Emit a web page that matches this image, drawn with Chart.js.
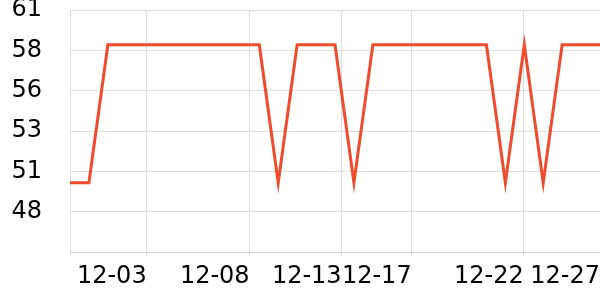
<!DOCTYPE html>
<html>
<head>
<meta charset="utf-8">
<script src="https://cdn.jsdelivr.net/npm/chart.js@4"></script>
<style>
  body { margin: 0; background: #fff; }
  #wrap { width: 600px; height: 300px; }
</style>
</head>
<body>
<div id="wrap"><canvas id="priceChart" width="600" height="300"></canvas></div>
<script>
const dayIndex = [0, 1, 2, 3, 4, 5, 6, 7, 8, 9, 10, 11, 12, 13, 14, 15, 16, 17, 18, 19, 20, 21, 22, 23, 24, 25, 26, 27, 28];
const values = [49.8, 49.8, 58.35, 58.35, 58.35, 58.35, 58.35, 58.35, 58.35, 58.35, 58.35, 49.8, 58.35, 58.35, 58.35, 49.8,
  58.35, 58.35, 58.35, 58.35, 58.35, 58.35, 58.35, 49.8, 58.35, 49.8, 58.35, 58.35, 58.35];
const xTickPos = [0, 4.05, 9.49, 14.35, 18.05, 23.97, 28];
const xTickLabels = ['', '12-03', '12-08', '12-13', '12-17', '12-22', '12-27'];
const yTickPos = [45.5, 48, 50.5, 53, 55.5, 58, 60.5];

document.addEventListener('DOMContentLoaded', function() {
  const ctx = document.getElementById('priceChart').getContext('2d');
  new Chart(ctx, {
    type: 'line',
    data: {
      datasets: [{
        data: dayIndex.map((d, i) => ({ x: d, y: values[i] })),
        borderColor: 'rgb(238, 76, 44)',
        borderWidth: 3,
        pointRadius: 0,
        tension: 0,
        fill: false,
      }]
    },
    options: {
      responsive: false,
      animation: false,
      layout: { padding: { left: 12, right: 0, top: 0, bottom: 0 } },
      scales: {
        x: {
          type: 'linear',
          min: 0,
          max: 28,
          afterBuildTicks: function(axis) {
            axis.ticks = xTickPos.map(v => ({ value: v }));
          },
          afterFit: function(axis) {
            axis.height = 48;
            axis.paddingLeft = 0;
            axis.paddingRight = 0;
          },
          grid: { color: '#dddddd', tickLength: 4 },
          border: { color: '#cccccc' },
          ticks: {
            autoSkip: false,
            maxRotation: 0,
            align: 'end',
            padding: 6,
            color: '#000',
            font: { family: 'DejaVu Sans', size: 24 },
            callback: function(value, index) { return xTickLabels[index]; },
          },
        },
        y: {
          min: 45.5,
          max: 60.5,
          afterBuildTicks: function(axis) {
            axis.ticks = yTickPos.map(v => ({ value: v }));
          },
          afterFit: function(axis) {
            axis.width = 58;
            axis.paddingTop = 10;
            axis.paddingBottom = 0;
          },
          grid: { color: '#dddddd', drawTicks: false },
          border: { color: '#dddddd' },
          ticks: {
            padding: 28,
            color: '#000',
            font: { family: 'DejaVu Sans', size: 24 },
            callback: function(value, index) { return index === 0 ? '' : value.toFixed(0); },
          },
        },
      },
      plugins: {
        legend: { display: false },
        tooltip: { enabled: false },
      },
    },
  });
});
</script>
</body>
</html>
